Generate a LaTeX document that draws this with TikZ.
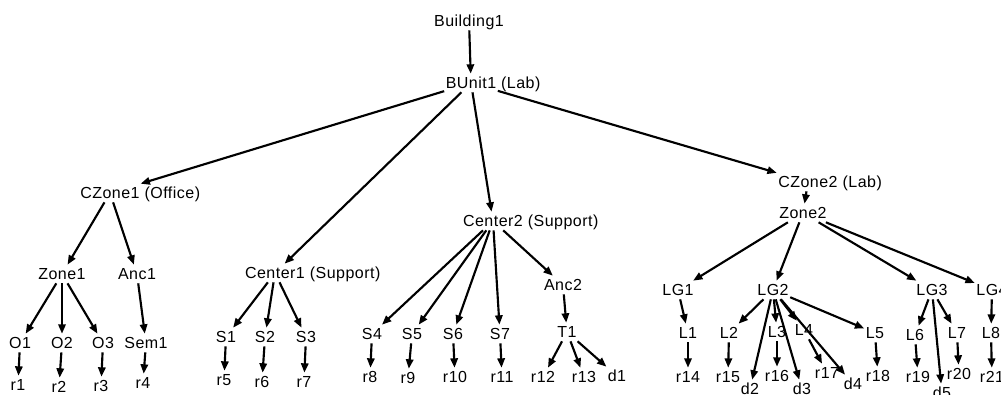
\documentclass[tikz,border=0pt]{standalone}
\usepackage{fontspec}
\setmainfont{Liberation Sans}[LetterSpace=3]
\usetikzlibrary{arrows.meta}
\begin{document}
\begin{tikzpicture}[x=0.75pt,y=-0.75pt,
  n/.style={inner xsep=1pt, inner ysep=2pt, text height=8.6pt, text depth=1pt,
            font=\fontsize{12}{14}\selectfont},
  e/.style={line width=1.6pt, -{Triangle[length=7pt,width=5.5pt]}}]
\path[use as bounding box] (0,0) rectangle (1001,394);
\fill[white] (0,0) rectangle (1001,394);
\clip (0,0) rectangle (1001,394);

% upper levels (the role in brackets hangs off the right of the name)
\node[n] (b1)  at (469,21)  {Building1};
\node[n] (bu)  at (471,83)  {BUnit1\rlap{\ (Lab)}};
\node[n] (cz1) at (110,193) {CZone1\rlap{\ (Office)}};
\node[n] (c1)  at (275,273) {Center1\rlap{\ (Support)}};
\node[n] (c2)  at (493,221) {Center2\rlap{\ (Support)}};
\node[n] (cz2) at (808,182) {CZone2\rlap{\ (Lab)}};

% office zone
\node[n] (z1)  at (62,274)  {Zone1};
\node[n] (a1)  at (137,274) {Anc1};
\node[n] (o1)  at (20,343)  {O1};
\node[n] (o2)  at (62,343)  {O2};
\node[n] (o3)  at (103,343) {O3};
\node[n] (sem) at (146,343) {Sem1};
\node[n] (r1)  at (18,385)  {r1};
\node[n] (r2)  at (59,387)  {r2};
\node[n] (r3)  at (101,386) {r3};
\node[n] (r4)  at (143,383) {r4};

% support center 1
\node[n] (s1)  at (226,337) {S1};
\node[n] (s2)  at (265,337) {S2};
\node[n] (s3)  at (306,337) {S3};
\node[n] (r5)  at (224,380) {r5};
\node[n] (r6)  at (262,382) {r6};
\node[n] (r7)  at (304,382) {r7};

% support center 2
\node[n] (s4)  at (372,334) {S4};
\node[n] (s5)  at (412,334) {S5};
\node[n] (s6)  at (453,334) {S6};
\node[n] (s7)  at (500,334) {S7};
\node[n] (a2)  at (563,285) {Anc2};
\node[n] (t1)  at (567,332) {T1};
\node[n] (r8)  at (370,377) {r8};
\node[n] (r9)  at (408,378) {r9};
\node[n] (r10) at (455,377) {r10};
\node[n] (r11) at (502,377) {r11};
\node[n] (r12) at (543,377) {r12};
\node[n] (r13) at (584,377) {r13};
\node[n] (d1)  at (617,376) {d1};

% lab zone
\node[n] (z2)  at (803,213) {Zone2};
\node[n] (lg1) at (678,290) {LG1};
\node[n] (lg2) at (773,290) {LG2};
\node[n] (lg3) at (932,290) {LG3};
\node[n] (lg4) at (992,290) {LG4};
\node[n] (l1)  at (688,333) {L1};
\node[n] (l2)  at (729,333) {L2};
\node[n] (l3)  at (777,332) {L3};
\node[n] (l4)  at (804,330) {L4};
\node[n] (l5)  at (875,333) {L5};
\node[n] (l6)  at (915,335) {L6};
\node[n] (l7)  at (957,333) {L7};
\node[n] (l8)  at (991,333) {L8};
\node[n] (r14) at (688,377) {r14};
\node[n] (r15) at (728,377) {r15};
\node[n] (d2)  at (750,389) {d2};
\node[n] (r16) at (777,376) {r16};
\node[n] (d3)  at (802,389) {d3};
\node[n] (r17) at (827,373) {r17};
\node[n] (d4)  at (853,384) {d4};
\node[n] (r18) at (878,376) {r18};
\node[n] (r19) at (918,377) {r19};
\node[n] (d5)  at (942,393) {d5};
\node[n] (r20) at (959,374) {r20};
\node[n] (r21) at (992,377) {r21};

% containment edges
\foreach \a/\b in {b1/bu, bu/cz1, bu/c1, bu/c2, bu/cz2,
  cz1/z1, cz1/a1, z1/o1, z1/o2, z1/o3, a1/sem,
  o1/r1, o2/r2, o3/r3, sem/r4,
  c1/s1, c1/s2, c1/s3, s1/r5, s2/r6, s3/r7,
  c2/s4, c2/s5, c2/s6, c2/s7, c2/a2, a2/t1,
  s4/r8, s5/r9, s6/r10, s7/r11, t1/r12, t1/r13, t1/d1,
  cz2/z2, z2/lg1, z2/lg2, z2/lg3, z2/lg4,
  lg1/l1, l1/r14,
  lg2/l2, lg2/l3, lg2/l4, lg2/l5, lg2/d2, lg2/d3, lg2/d4,
  l2/r15, l3/r16, l4/r17, l5/r18,
  lg3/l6, lg3/l7, lg3/d5, l6/r19, l7/r20,
  lg4/l8, l8/r21}
  \draw[e] (\a) -- (\b);
\end{tikzpicture}
\end{document}
